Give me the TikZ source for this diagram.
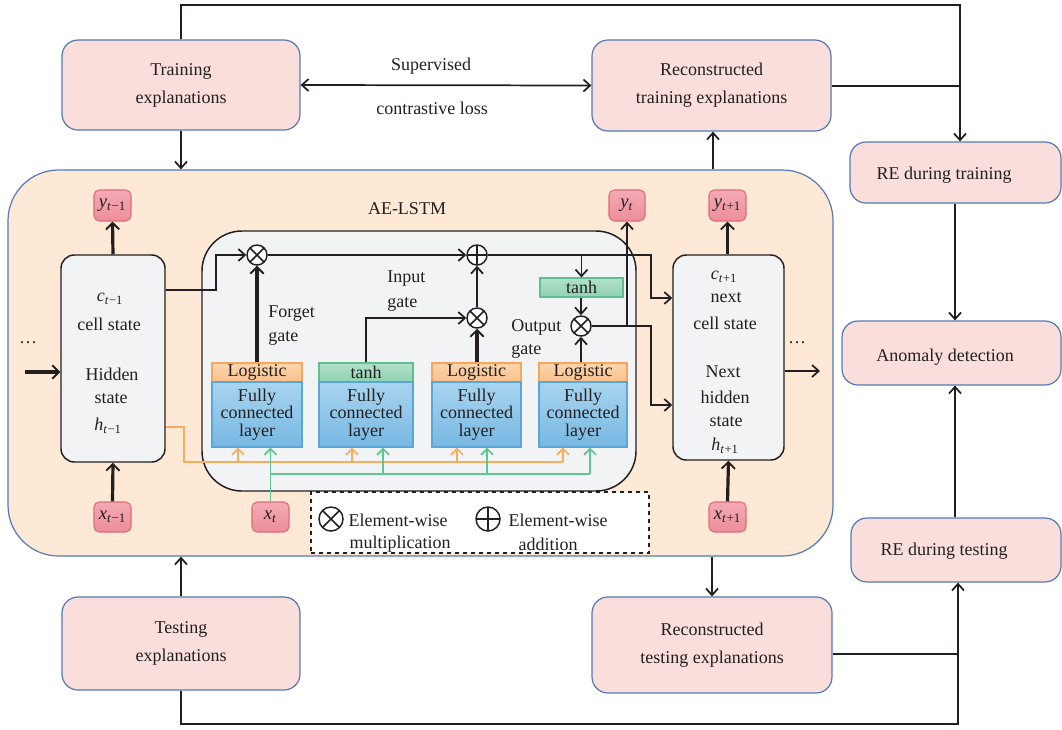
\documentclass[tikz,border=0pt]{standalone}
\usepackage{fontspec}
\setmainfont{Liberation Serif}
\usetikzlibrary{arrows.meta,fit,calc}
\definecolor{pinkfill}{HTML}{F9DEDB}
\definecolor{bordblue}{HTML}{5479B4}
\definecolor{peach}{HTML}{FDE9D5}
\definecolor{cellgrey}{HTML}{F2F3F5}
\definecolor{spTop}{HTML}{F4AAB4}
\definecolor{spBot}{HTML}{EC8E9B}
\definecolor{spBord}{HTML}{E06A7A}
\definecolor{orTop}{HTML}{FCD5AE}
\definecolor{orBot}{HTML}{F9C08C}
\definecolor{orBord}{HTML}{F5A55C}
\definecolor{fcTop}{HTML}{A8D4EF}
\definecolor{fcBot}{HTML}{78B8E2}
\definecolor{fcBord}{HTML}{5BA6D8}
\definecolor{grTop}{HTML}{B2E0CA}
\definecolor{grBot}{HTML}{90D2B2}
\definecolor{grBord}{HTML}{5FBF8F}
\definecolor{olinec}{HTML}{F7AD5E}
\definecolor{glinec}{HTML}{5DC693}
\definecolor{ink}{HTML}{231F20}
\newcommand\mysub[2]{\textit{#1}\textsubscript{\textit{t}\kern0.3pt#2}}
\begin{document}
\begin{tikzpicture}[x=0.75pt,y=-0.75pt, font=\fontsize{13.5}{17}\selectfont, text=ink,
 rbox/.style={draw=bordblue, fill=pinkfill, rounded corners=12pt, line width=0.9pt, inner sep=0pt},
 aebox/.style={draw=bordblue, fill=peach, rounded corners=38pt, line width=0.9pt, inner sep=0pt},
 lstmbox/.style={draw=ink, fill=cellgrey, rounded corners=30pt, line width=1.1pt, inner sep=0pt},
 cellbox/.style={draw=ink, fill=cellgrey, rounded corners=10pt, line width=1.1pt, inner sep=0pt},
 sbox/.style={draw=spBord, top color=spTop, bottom color=spBot, rounded corners=4pt, line width=0.8pt, inner sep=0pt},
 logi/.style={draw=orBord, top color=orTop, bottom color=orBot, line width=0.8pt, inner sep=0pt},
 thbox/.style={draw=grBord, top color=grTop, bottom color=grBot, line width=0.8pt, inner sep=0pt},
 fcbox/.style={draw=fcBord, top color=fcTop, bottom color=fcBot, line width=0.8pt, inner sep=0pt},
 opx/.style={circle, draw=ink, fill=white, line width=1.1pt, minimum size=15pt, inner sep=0pt,
   path picture={\draw[line width=1.1pt] (path picture bounding box.north west) -- (path picture bounding box.south east) (path picture bounding box.north east) -- (path picture bounding box.south west);}},
 opp/.style={circle, draw=ink, fill=white, line width=1.1pt, minimum size=15pt, inner sep=0pt,
   path picture={\draw[line width=1.1pt] (path picture bounding box.north) -- (path picture bounding box.south) (path picture bounding box.east) -- (path picture bounding box.west);}},
 flow/.style={draw=ink, line width=1.3pt},
 arr/.style={flow, -{Straight Barb[length=5pt,width=9pt]}},
 darr/.style={flow, {Straight Barb[length=5pt,width=9pt]}-{Straight Barb[length=5pt,width=9pt]}},
 tarr/.style={draw=ink, line width=2.4pt, -{Straight Barb[length=5pt,width=10pt,line width=1.4pt]}},
 oline/.style={draw=olinec, line width=1.3pt},
 oarr/.style={oline, -{Straight Barb[length=4.5pt,width=9pt]}},
 gline/.style={draw=glinec, line width=1.3pt},
 garr/.style={gline, -{Straight Barb[length=4.5pt,width=9pt]}},
 txt/.style={inner sep=0pt, align=center},
 btxt/.style={txt, font=\fontsize{13.5}{21}\selectfont},
 stxt/.style={txt, font=\fontsize{14}{16}\selectfont},
 fctxt/.style={txt, font=\fontsize{13.5}{13}\selectfont}
]
\useasboundingbox (0,0) rectangle (1062,729);

% ---------- outer boxes ----------
\node[rbox, fit={(62,40)(300,130)}] (trexp) {};
\node[btxt] (trexpt) at (trexp) {Training\\explanations};
\node[rbox, fit={(592,40)(831,131)}] (retr) {};
\node[btxt] (retrt) at (retr) {Reconstructed\\training explanations};
\node[rbox, fit={(850,142)(1061,203)}] (retrain) {};
\node[txt] (retraintxt) at (944,175) {RE during training};
\node[rbox, fit={(842,321)(1061,385)}] (anom) {};
\node[txt] (anomtxt) at (945,357) {Anomaly detection};
\node[rbox, fit={(851,518)(1061,582)}] (retest) {};
\node[txt] (retesttxt) at (944,551) {RE during testing};
\node[rbox, fit={(62,597)(300,690)}] (teexp) {};
\node[btxt] (teexpt) at (teexp) {Testing\\explanations};
\node[rbox, fit={(592,597)(832,693)}] (rte) {};
\node[btxt] (rtet) at (rte) {Reconstructed\\testing explanations};

\node[txt] (sup) at (431,66) {Supervised};
\node[txt] (cl) at (432,108) {contrastive loss};

% ---------- AE-LSTM ----------
\node[aebox, fit={(8,170)(833,556)}] (ae) {};
\node[txt] (aetitle) at (407,209) {AE-LSTM};

\node[lstmbox, fit={(202,231)(636,491)}] (lstm) {};
\node[cellbox, fit={(61,255)(165,462)}] (c0) {};
\node[cellbox, fit={(673,255)(784,460)}] (c2) {};

\node[sbox, fit={(94,190)(131,221)}] (y0) {};
\node[stxt] at (y0) {\mysub{y}{−1}};
\node[sbox, fit={(94,502)(131,532)}] (x0) {};
\node[stxt] at (x0) {\mysub{x}{−1}};
\node[sbox, fit={(609,190)(645,221)}] (yt) {};
\node[stxt] at (yt) {\mysub{y}{}};
\node[sbox, fit={(252,502)(289,532)}] (xt) {};
\node[stxt] at (xt) {\mysub{x}{}};
\node[sbox, fit={(709,190)(746,221)}] (y2) {};
\node[stxt] at (y2) {\mysub{y}{+1}};
\node[sbox, fit={(709,502)(746,532)}] (x2) {};
\node[stxt] at (x2) {\mysub{x}{+1}};

% cell texts
\node[txt] (c0a) at (110,299) {\mysub{c}{−1}};
\node[txt] (c0b) at (109,324) {cell state};
\node[txt] (c0c) at (112,374) {Hidden};
\node[txt] (c0d) at (111,399) {state};
\node[txt] (c0e) at (108,426) {\mysub{h}{−1}};
\node[txt] (c2a) at (724,277) {\mysub{c}{+1}};
\node[txt] (c2b) at (726,298) {next};
\node[txt] (c2c) at (725,323) {cell state};
\node[txt] (c2d) at (723,372) {Next};
\node[txt] (c2e) at (725,397) {hidden};
\node[txt] (c2f) at (726,422) {state};
\node[txt] (c2g) at (725,446) {\mysub{h}{+1}};

\node[txt] (dl) at (28,343) {\dots};
\node[txt] (dr) at (797,343) {\dots};
\coordinate (inl) at (25,372);
\coordinate (outr) at (820,371);

% gates
\node[logi, fit={(212,363)(302,382)}] (lg1) {};
\node[txt] at (lg1) {Logistic};
\node[fcbox, fit={(212,382)(302,447)}] (fc1) {};
\node[fctxt] at (fc1) {Fully\\connected\\layer};
\node[thbox, fit={(319,363)(413,382)}] (g2) {};
\node[txt] at (g2) {tanh};
\node[fcbox, fit={(319,382)(413,447)}] (fc2) {};
\node[fctxt] at (fc2) {Fully\\connected\\layer};
\node[logi, fit={(432,363)(521,382)}] (lg3) {};
\node[txt] at (lg3) {Logistic};
\node[fcbox, fit={(432,382)(521,447)}] (fc3) {};
\node[fctxt] at (fc3) {Fully\\connected\\layer};
\node[logi, fit={(539,363)(627,382)}] (lg4) {};
\node[txt] at (lg4) {Logistic};
\node[fcbox, fit={(539,382)(627,447)}] (fc4) {};
\node[fctxt] at (fc4) {Fully\\connected\\layer};
\node[thbox, fit={(540,278)(623,297)}] (th5) {};
\node[txt] at (th5) {tanh};

\node[opx] (m1) at (257,255) {};
\node[opp] (a1) at (477,255) {};
\node[opx] (m2) at (477,318) {};
\node[opx] (m3) at (581,326) {};

\node[txt, anchor=west] (fg1) at (268,314) {Forget};
\node[txt, anchor=west] (fg2) at (268,338) {gate};
\node[txt, anchor=west] (ig1) at (387,279) {Input};
\node[txt, anchor=west] (ig2) at (387,304) {gate};
\node[txt, anchor=west] (og1) at (511,327) {Output};
\node[txt, anchor=west] (og2) at (511,351) {gate};

% legend
\node[draw=ink, dashed, line width=1.5pt, fill=white, inner sep=0pt, fit={(311,492)(649,553)}] (leg) {};
\node[opx, minimum size=18pt] (lgx) at (331,519) {};
\node[opp, minimum size=18pt] (lgp) at (488,519) {};
\node[txt] (l1) at (398,520) {Element-wise};
\node[txt] (l2) at (400,544) {multiplication};
\node[txt] (l3) at (558,520) {Element-wise};
\node[txt] (l4) at (548,544) {addition};

% ---------- outer connectors ----------
\coordinate (jtr) at (960,86);
\coordinate (jte) at (958,654);
\coordinate (upx) at (713,0);
\draw[arr] (trexp.north) -- (trexp.north |- 0,5) -| (retrain.north -| jtr);
\draw[flow] (retr.east |- jtr) -- (jtr);
\draw[darr] (trexp.east) -- (retr.west);
\draw[arr] (trexp.south) -- (trexp.south |- ae.north);
\draw[arr] (ae.north -| upx) -- (retr.south -| upx);
\draw[arr] (retrain.south -| 955,0) -- (anom.north -| 955,0);
\draw[arr] (retest.north -| 955,0) -- (anom.south -| 955,0);
\draw[arr] (teexp.north) -- (teexp.north |- ae.south);
\draw[arr] (rte.north |- ae.south) -- (rte.north);
\draw[flow] (rte.east |- jte) -- (jte);
\draw[arr] (teexp.south) -- (teexp.south |- 0,724) -| (retest.south -| jte);

% ---------- inner connectors ----------
\draw[tarr] (c0.north) -- (y0.south);
\draw[tarr] (x0.north) -- (c0.south);
\draw[tarr] (inl) -- (c0.west |- inl);
\draw[tarr] (x2.north) -- (c2.south);
\draw[tarr] (c2.north -| y2) -- (y2.south);
\draw[arr] (c2.east |- outr) -- (outr);

\draw[arr] (c0.east |- 0,290) -- (216,290) |- (m1.west);
\draw[tarr] (lg1.north -| m1) -- (m1.south);
\draw[arr] (m1.east) -- (a1.west);
\draw[arr] (m2.north) -- (a1.south);
\draw[arr] (g2.north) |- (m2.west);
\draw[tarr] (lg3.north -| m2) -- (m2.south);
\draw[arr] (a1.east) -- (651,255) |- (c2.west |- 0,298);
\draw[arr] (th5.north |- a1) -- (th5.north);
\draw[arr] (th5.south -| m3) -- (m3.north);
\draw[arr] (lg4.north -| m3) -- (m3.south);
\draw[arr] (m3.east) -- (651,326) |- (c2.west |- 0,405);
\draw[arr] (yt.south |- m3) -- (yt.south);

% orange (hidden state) and green (input) feeds
\draw[oline] (c0.east |- 0,427) -- (184,427) |- (563,462);
\draw[oarr] (238,462) -- (fc1.south -| 238,0);
\draw[oarr] (352,462) -- (fc2.south -| 352,0);
\draw[oarr] (457,462) -- (fc3.south -| 457,0);
\draw[oarr] (563,462) -- (fc4.south -| 563,0);
\draw[garr] (xt.north) -- (fc1.south -| xt);
\draw[gline] (270,474) -- (590,474);
\draw[garr] (383,474) -- (fc2.south -| 383,0);
\draw[garr] (487,474) -- (fc3.south -| 487,0);
\draw[garr] (590,474) -- (fc4.south -| 590,0);
\end{tikzpicture}
\end{document}
